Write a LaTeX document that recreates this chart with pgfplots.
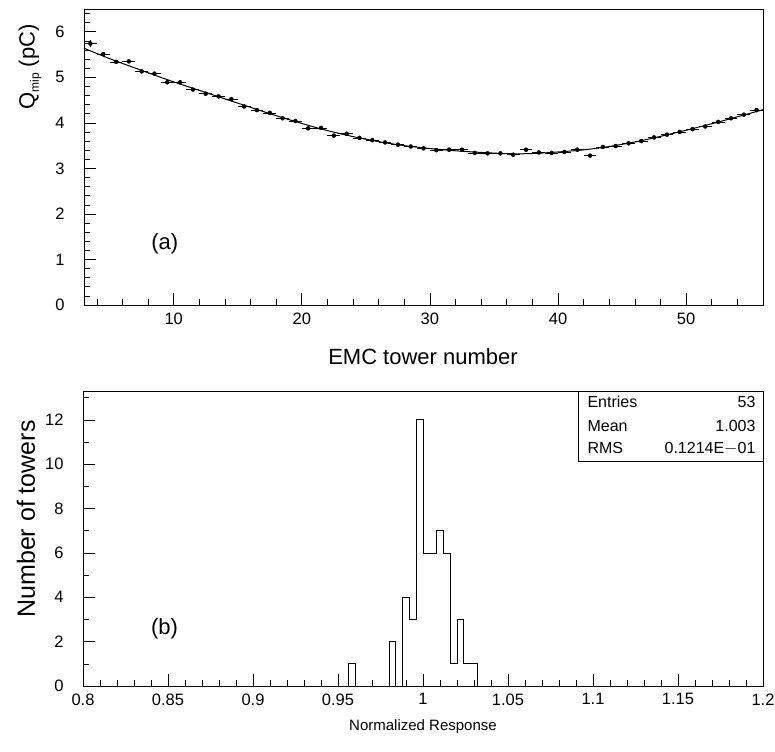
\documentclass[border=0pt]{standalone}
\usepackage{pgfplots}
\pgfplotsset{compat=1.18}
\usepackage{pgfplotstable}
\usepackage{fontspec}
\setmainfont{Liberation Sans}
\pgfplotstableread{
x y ex ey
3.5 5.74 0.5 0.08
4.5 5.51 0.5 0.04
5.5 5.34 0.5 0.04
6.5 5.35 0.5 0.04
7.5 5.13 0.5 0.04
8.5 5.08 0.5 0.04
9.5 4.89 0.5 0.04
10.5 4.89 0.5 0.04
11.5 4.73 0.5 0.04
12.5 4.64 0.5 0.04
13.5 4.58 0.5 0.04
14.5 4.52 0.5 0.04
15.5 4.36 0.5 0.04
16.5 4.28 0.5 0.04
17.5 4.22 0.5 0.04
18.5 4.10 0.5 0.04
19.5 4.04 0.5 0.04
20.5 3.88 0.5 0.04
21.5 3.89 0.5 0.04
22.5 3.72 0.5 0.04
23.5 3.76 0.5 0.04
24.5 3.67 0.5 0.04
25.5 3.62 0.5 0.04
26.5 3.57 0.5 0.04
27.5 3.52 0.5 0.04
28.5 3.48 0.5 0.04
29.5 3.44 0.5 0.04
30.5 3.40 0.5 0.04
31.5 3.41 0.5 0.04
32.5 3.41 0.5 0.04
33.5 3.34 0.5 0.04
34.5 3.33 0.5 0.04
35.5 3.33 0.5 0.04
36.5 3.30 0.5 0.04
37.5 3.41 0.5 0.04
38.5 3.35 0.5 0.04
39.5 3.34 0.5 0.04
40.5 3.36 0.5 0.04
41.5 3.41 0.5 0.04
42.5 3.28 0.5 0.04
43.5 3.47 0.5 0.04
44.5 3.49 0.5 0.04
45.5 3.55 0.5 0.04
46.5 3.60 0.5 0.04
47.5 3.68 0.5 0.04
48.5 3.74 0.5 0.04
49.5 3.80 0.5 0.04
50.5 3.86 0.5 0.04
51.5 3.92 0.5 0.04
52.5 4.02 0.5 0.04
53.5 4.10 0.5 0.04
54.5 4.18 0.5 0.04
55.5 4.28 0.5 0.04
}\towerdata
\begin{document}
\begin{tikzpicture}[x=1pt,y=1pt]
\path[use as bounding box, fill=white] (0,0) rectangle (775,751);
% ---------- panel (a)
\begin{axis}[at={(84pt,446pt)}, anchor=south west, width=679pt, height=296pt, scale only axis,
 xmin=3, xmax=56, ymin=0, ymax=6.5,
 xtick={10,20,30,40,50}, minor xtick={4,6,...,56},
 ytick={0,1,...,6}, minor ytick={0,0.2,...,6.4},
 tick align=inside, xtick pos=left, ytick pos=left,
 major tick length=12pt, minor tick length=6pt,
 tick style={black, line width=0.6pt},
 axis line style={line width=0.8pt},
 ticklabel style={font=\fontsize{16.5}{16.5}\selectfont},
 /pgf/number format/assume math mode=true,
 xticklabel style={yshift=-4pt},
 yticklabel style={xshift=-16pt},
 clip=false]
\addplot[only marks, mark=none, black,
  error bars/.cd, x dir=both, x explicit, y dir=both, y explicit, error mark=none,
  error bar style={line width=0.6pt, black}]
  table[x=x, y=y, x error=ex, y error=ey] {\towerdata};
\addplot[smooth, tension=0.6, line width=1pt, black] coordinates {
(3,5.64) (5,5.41) (8,5.10) (10,4.90) (13,4.62) (16,4.34) (19,4.07) (22,3.83)
(25,3.64) (28,3.50) (31,3.41) (34,3.35) (37,3.32) (40,3.36) (43,3.44) (46,3.58)
(49,3.77) (52,3.98) (55,4.21) (56,4.29)};
\node[font=\fontsize{22}{22}\selectfont] at (axis cs:9.3,1.35) {(a)};
\end{axis}
% ---------- panel (b)
\begin{axis}[at={(83pt,65pt)}, anchor=south west, width=680pt, height=295pt, scale only axis,
 xmin=0.8, xmax=1.2, ymin=0, ymax=13.3,
 xtick={0.8,0.85,0.9,0.95,1,1.05,1.1,1.15,1.2},
 xticklabels={0.8,0.85,0.9,0.95,1,1.05,1.1,1.15,1.2},
 minor xtick={0.8,0.81,...,1.2},
 ytick={0,2,...,12}, minor ytick={1,3,...,13},
 tick align=inside, xtick pos=left, ytick pos=left,
 major tick length=12pt, minor tick length=6pt,
 tick style={black, line width=0.6pt},
 axis line style={line width=0.8pt},
 ticklabel style={font=\fontsize{16.5}{16.5}\selectfont},
 /pgf/number format/assume math mode=true,
 xticklabel style={yshift=-4pt},
 yticklabel style={xshift=-16pt},
 clip=false]
\addplot[const plot mark left, line width=0.8pt, black] coordinates {
(0.952,0) (0.956,1) (0.960,0) (0.980,2) (0.984,0) (0.988,4) (0.992,3) (0.996,12)
(1.000,6) (1.004,6) (1.008,7) (1.012,6) (1.016,1) (1.020,3) (1.024,1) (1.028,1)
(1.032,0) (1.036,0)};
\node[font=\fontsize{22}{22}\selectfont] at (axis cs:0.848,2.6) {(b)};
\end{axis}
% ---------- titles
\node[rotate=90, font=\fontsize{22}{22}\selectfont] at (30,684)
  {Q\raisebox{-0.35ex}{\fontsize{12}{12}\selectfont mip} (pC)};
\node[font=\fontsize{22}{22}\selectfont] at (423,394) {EMC tower number};
\node[rotate=90, font=\fontsize{25}{25}\selectfont] at (26,232) {Number of towers};
\node[font=\fontsize{15}{15}\selectfont] at (423,24) {Normalized Response};
% ---------- stats box
\draw[line width=0.8pt] (578,360) -- (578,289.3) -- (763,289.3);
\begin{scope}[font=\fontsize{16}{16}\selectfont]
\node[anchor=west] at (584,349.3) {Entries};
\node[anchor=west] at (584,325.3) {Mean};
\node[anchor=west] at (584,302.7) {RMS};
\node[anchor=east] at (759,349.3) {53};
\node[anchor=east] at (759,325.3) {1.003};
\node[anchor=east] at (759,302.7) {0.1214E$-$01};
\end{scope}
\end{tikzpicture}
\end{document}
